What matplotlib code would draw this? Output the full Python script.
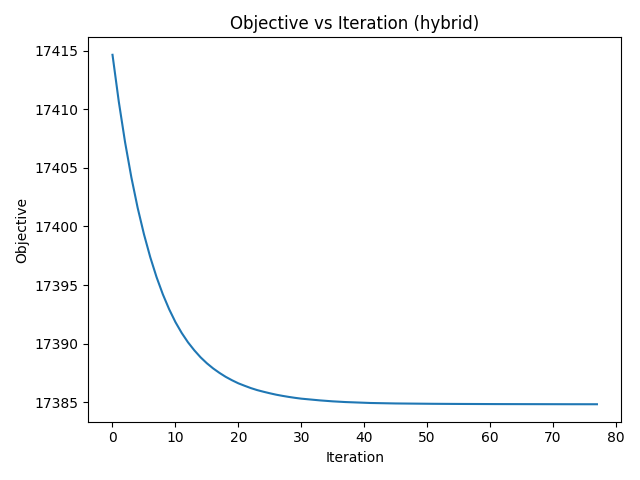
import matplotlib
matplotlib.use("Agg")
import matplotlib.pyplot as plt

# objective value at each iteration
iterations = list(range(78))
objective = [
    17414.66, 17410.66, 17407.19, 17404.19, 17401.59, 17399.34, 17397.38, 17395.68,
    17394.21, 17392.94, 17391.84, 17390.91, 17390.11, 17389.43, 17388.83, 17388.32,
    17387.88, 17387.50, 17387.16, 17386.87, 17386.61, 17386.40, 17386.20, 17386.03,
    17385.89, 17385.76, 17385.64, 17385.54, 17385.45, 17385.37, 17385.30, 17385.25,
    17385.20, 17385.15, 17385.11, 17385.07, 17385.04, 17385.01, 17384.99, 17384.97,
    17384.95, 17384.93, 17384.92, 17384.91, 17384.90, 17384.89, 17384.885, 17384.88,
    17384.875, 17384.87, 17384.865, 17384.86, 17384.857, 17384.854, 17384.851, 17384.848,
    17384.846, 17384.844, 17384.842, 17384.840, 17384.838, 17384.836, 17384.835, 17384.834,
    17384.833, 17384.832, 17384.831, 17384.830, 17384.829, 17384.828, 17384.827, 17384.826,
    17384.825, 17384.824, 17384.824, 17384.823, 17384.823, 17384.822,
]

fig, ax = plt.subplots(figsize=(6.4, 4.8), dpi=100)
ax.plot(iterations, objective)
ax.set_title("Objective vs Iteration (hybrid)")
ax.set_xlabel("Iteration")
ax.set_ylabel("Objective")
fig.tight_layout()
fig.savefig("out.png")
